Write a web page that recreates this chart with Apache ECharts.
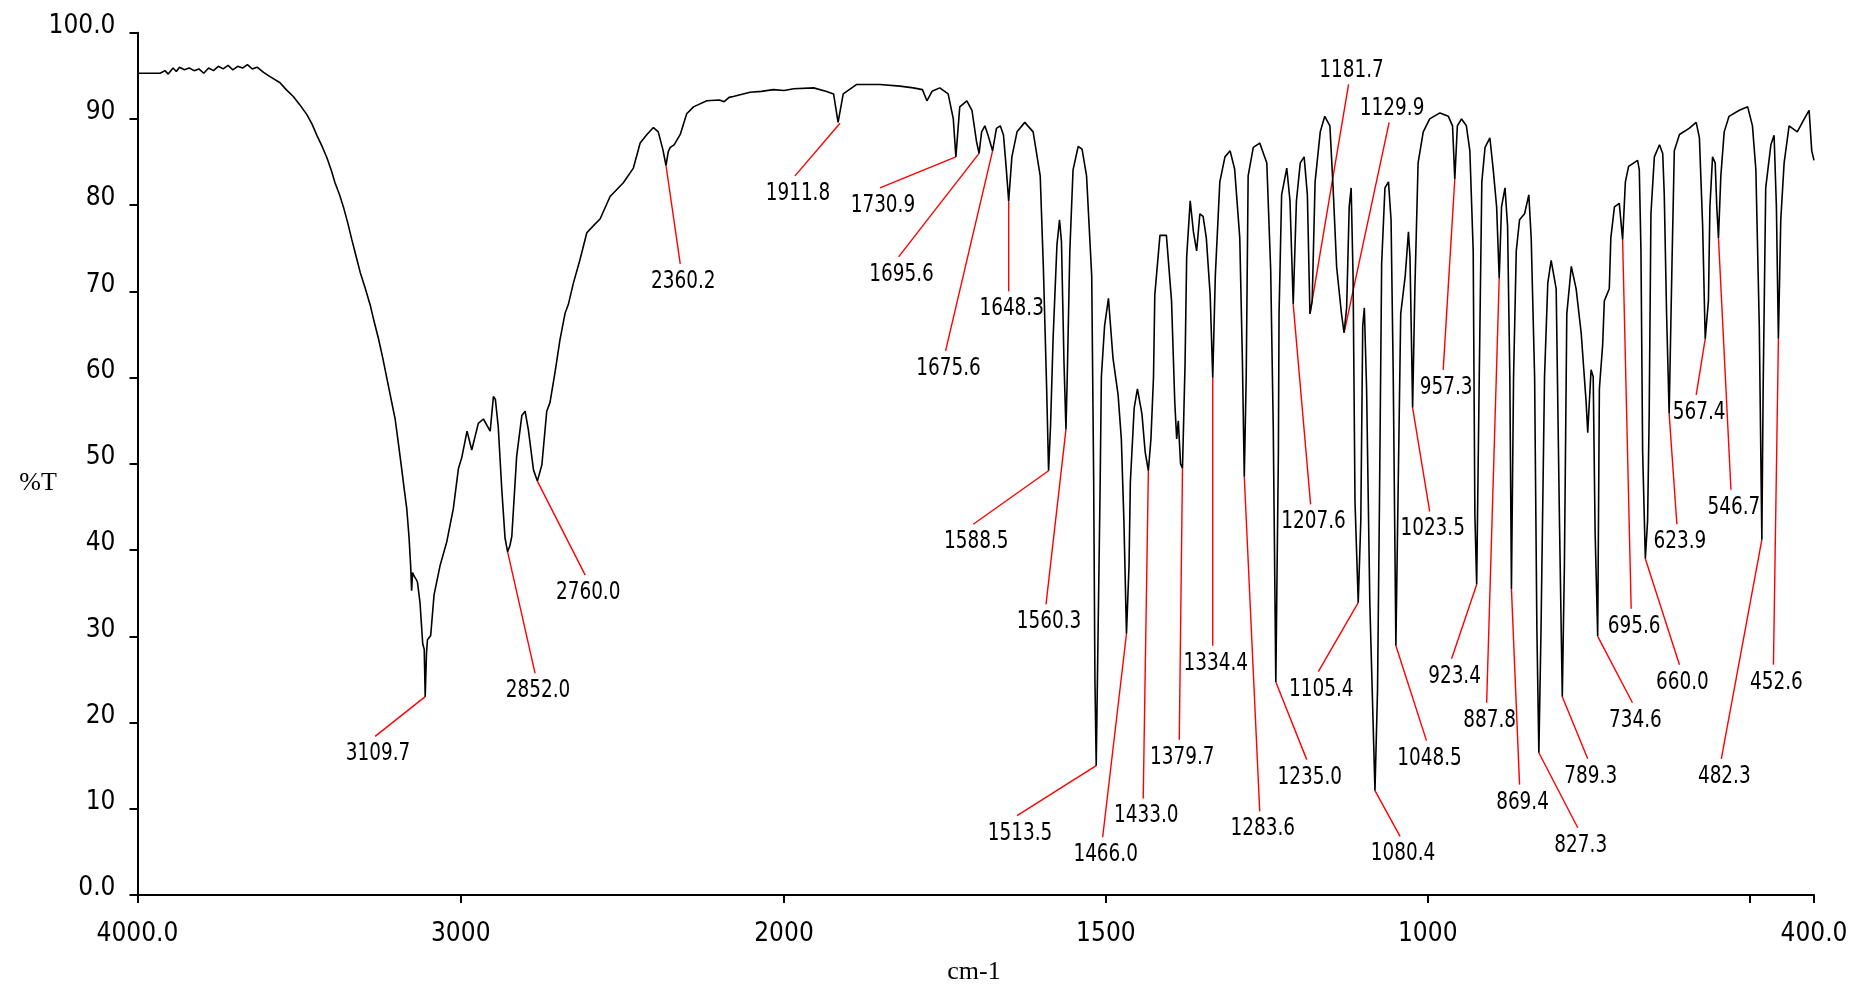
<!DOCTYPE html>
<html><head><meta charset="utf-8">
<script src="https://cdn.jsdelivr.net/npm/echarts@6/dist/echarts.min.js"></script>
<style>html,body{margin:0;padding:0;background:#fff}#c{width:1863px;height:985px}</style>
</head><body><div id="c"></div>
<script>
// ---- spectrum, 4000-2000 cm-1 (compressed scale) ----
const wnHigh = [4000,3930,3915,3905,3890,3880,3870,3855,3840,3825,
  3810,3795,3780,3765,3750,3735,3720,3705,3690,3675,
  3660,3645,3630,3610,3590,3559,3540,3518,3497,3476,
  3460,3445,3430,3414,3400,3389,3375,3363,3350,3337,
  3324,3311,3295,3280,3268,3255,3242,3229,3216,3203,
  3193,3183,3175,3167,3160,3155,3152,3149,3144.5,3138,
  3134,3126,3117.6,3113,3110,3106,3103,3093,3082.6,3064,
  3043,3023,3007,2997,2980.5,2966,2945.6,2930,2909,2899,
  2893,2884,2873,2863,2855,2848,2842,2827,2811,2801,
  2791,2775,2763,2749,2734,2724,2708,2693,2677,2667,
  2652,2631,2610,2590,2569,2538,2497,2466,2445,2424,
  2404,2389,2375,2365,2358,2352,2340,2321,2301,2280,
  2239,2200,2185,2170,2157,2105,2070,2033,2000];
const tHigh = [95.3,95.3,95.6,95.2,95.9,95.5,96.0,95.7,95.9,95.6,
  95.8,95.3,95.9,95.6,96.1,95.8,96.2,95.7,96.1,95.9,
  96.3,95.8,96.0,95.4,94.9,94.2,93.4,92.6,91.6,90.5,
  89.4,88.1,86.9,85.5,84.0,82.6,81.2,79.8,78.0,76.0,
  74.1,72.2,70.3,68.4,66.5,64.6,62.4,60.0,57.6,55.2,
  52.4,49.5,47.1,44.8,41.5,38.2,35.3,37.4,37.0,36.6,
  36.3,33.9,29.1,28.5,23.0,28.0,29.6,30.1,34.8,38.2,
  41.0,44.8,49.5,50.7,53.8,51.6,54.7,55.2,53.8,57.8,
  57.5,54.3,47.0,41.4,39.8,40.5,41.6,50.9,55.6,56.1,
  54.0,49.3,48.0,49.9,56.1,57.1,60.7,64.4,67.5,68.5,
  70.9,73.7,76.8,77.6,78.4,81.0,82.6,84.3,87.2,88.2,
  89.0,88.5,86.5,84.6,86.2,86.7,87.0,88.2,90.6,91.4,
  92.1,92.2,92.0,92.5,92.6,93.1,93.2,93.4,93.3];

// ---- spectrum, 2000-400 cm-1 (expanded scale) ----
const wnLow = [2000,1985,1954,1935,1923,1916,1913,1908,1887,1851,
  1820,1799,1785,1778,1770,1758,1745,1737,1733,1727,
  1716,1708,1701,1697,1693,1688,1683,1676,1670,1664,
  1659,1655,1651,1646,1638,1626,1613,1602,1597,1592,
  1589,1586,1582,1576,1572,1569,1565,1562,1560,1556,
  1551,1543,1537,1530,1522,1519,1517,1515,1512,1509,
  1507,1502,1496,1489,1481,1476,1472,1468,1464,1462,
  1456,1451,1444,1439,1434,1430,1426,1424,1416,1406,
  1398,1393,1390,1387.5,1384,1381,1377,1374.5,1369,1364,
  1359,1354,1349,1344,1338,1334,1330,1323,1315,1307,
  1300,1292,1288,1285,1282,1279,1271,1261,1250,1244,
  1240,1236,1232,1231,1227,1219,1214,1209,1204,1198,
  1192,1187,1183,1179.5,1175,1167,1160,1152,1147,1141.5,
  1134,1130,1126,1122,1119,1116,1113,1108,1104,1101,
  1098.5,1095,1090,1082,1078,1075,1071.6,1066.5,1061,1057,
  1053.6,1049.5,1046,1042,1035,1030,1027.6,1025,1023.5,1020,
  1015,1007,997,981,968,961.5,958,954,947.5,940,
  934.6,929.4,926.8,924,920,916,911,903.5,898.4,893,
  889,885.4,880,876,872.5,870,866.7,862.5,857.4,849.6,
  843,839.3,834,830.5,827.4,824,818.6,813.5,808.3,800.5,
  795.4,791,787.7,784,777,769.5,761.7,754,751.5,746.3,
  743,740,736,733.4,728.3,725.7,718,715.6,710,702.5,
  697.3,693,688,674,671.4,668.8,666.2,662,658.5,656,
  653.3,648,640,635,632.6,629,625,620.6,617,609,
  594,583,578,573,569,564,561.7,557.6,553.5,551,
  548.4,544.7,539.5,532,516,503,495.6,490.3,485,481,
  479,475,467,462,458.4,455.3,451.6,446.4,438.7,426,
  413,407.6,403.5,400];
const tLow = [93.3,93.5,93.6,93.2,92.9,89.6,89.5,92.9,94.0,94.0,
  93.8,93.6,93.4,92.1,93.2,93.6,92.9,90.0,85.6,91.4,
  92.1,91.0,87.4,86.0,88.5,89.2,88.1,86.3,88.9,89.2,
  88.1,84.5,80.5,85.6,88.5,89.6,88.5,83.4,72.5,58.7,
  49.2,54.3,64.5,75.4,78.3,75.8,61.6,54.0,60.1,74.7,
  84.1,86.8,86.5,83.4,71.8,48.5,25.0,15.0,31.0,47.0,
  60.1,66.0,69.2,62.3,58.0,52.9,43.4,30.3,38.3,47.8,
  56.5,58.7,55.8,51.4,49.2,52.9,60.1,69.6,76.5,76.5,
  68.9,57.2,52.9,55.0,50.0,49.5,61.6,74.0,80.5,76.9,
  74.7,79.0,78.7,76.2,69.6,60.0,71.8,82.7,85.6,86.3,
  84.2,76.2,62.3,48.5,60.1,83.4,86.7,87.2,84.9,72.5,
  54.3,24.7,51.4,67.4,81.2,84.3,80.5,68.5,80.5,84.9,
  85.6,81.2,67.4,68.9,82.7,88.5,90.3,89.2,82.0,72.8,
  67.4,65.2,68.1,79.8,82.0,71.8,45.6,33.9,43.4,66.0,
  68.1,58.7,33.9,12.1,23.8,45.6,73.2,82.0,82.7,78.3,
  60.1,28.9,47.0,67.4,71.8,76.9,74.0,63.0,56.5,70.3,
  84.9,88.5,90.0,90.7,90.3,89.2,83.0,89.2,90.0,89.2,
  86.3,74.7,44.1,36.0,60.1,82.7,86.7,87.8,84.2,79.8,
  71.5,79.8,82.0,77.6,60.1,35.5,60.1,74.7,78.3,79.0,
  81.2,76.2,60.1,31.0,16.5,31.0,60.1,71.0,73.6,70.3,
  43.4,23.0,38.3,67.4,72.9,70.3,65.2,57.2,53.6,60.9,
  60.1,42.0,30.0,58.7,63.8,68.9,70.3,76.2,79.8,80.2,
  76.0,82.7,84.5,85.2,84.1,74.7,51.4,39.0,43.4,55.8,
  79.0,85.6,87.0,86.0,81.2,67.4,55.8,73.2,86.3,88.2,
  88.9,89.6,87.8,77.6,64.5,68.9,79.8,85.6,84.9,79.8,
  76.2,83.4,88.5,90.3,91.0,91.4,89.2,84.1,66.0,41.2,
  58.7,82.0,87.0,88.1,79.8,64.5,78.3,84.9,89.2,88.5,
  90.3,91.0,86.3,85.2];

// ---- peak annotations ----
const peakLabels = ['3109.7','2852.0','2760.0','2360.2','1911.8','1730.9','1695.6','1675.6','1648.3','1588.5',
  '1560.3','1513.5','1466.0','1433.0','1379.7','1334.4','1283.6','1235.0','1207.6','1181.7',
  '1129.9','1105.4','1080.4','1048.5','1023.5','957.3','923.4','887.8','869.4','827.3',
  '789.3','734.6','695.6','660.0','623.9','567.4','546.7','482.3','452.6'];
const peakWn = [3110,2855,2763,2365,1913,1733,1697,1676,1651,1589,
  1562,1515,1468,1434,1381,1334,1285,1236,1209,1183,
  1130,1108,1082,1049.5,1023.5,958,924,889,870,827.4,
  791,736,697.3,662,625,569,548.4,481,455.3];
const peakT = [23.0,39.8,48.0,84.6,89.5,85.6,86.0,86.3,80.5,49.2,
  54.0,15.0,30.3,49.2,49.5,60.0,48.5,24.7,68.5,67.4,
  65.2,33.9,12.1,28.9,56.5,83.0,36.0,71.5,35.5,16.5,
  23.0,30.0,76.0,39.0,55.8,64.5,76.2,41.2,64.5];
const leaderWn = [3265,2770,2615,2321,1983,1851,1822,1749,1651,1706,
  1593,1638,1505,1442,1386,1334,1261,1188,1182,1123,
  1060,1170,1043,1002,997,976,963,908.5,857.4,767,
  751.5,682,684,609,613,583,529,544,463];
const leaderT = [18.4,25.7,37.1,73.2,83.4,82.0,74.0,63.1,70.0,43.0,
  33.7,9.2,6.7,11.2,18.0,28.9,9.7,15.7,45.3,94.0,
  89.6,25.9,6.8,17.9,44.5,60.9,27.4,22.3,12.8,7.8,
  15.8,22.3,33.2,26.7,43.0,58.0,47.0,15.8,26.7];

// ---- axes ----
const yTickLabels = {100:'100.0', 0:'0.0'};
const xTicksHigh = [4000, 3000];
const xTicksLow = [2000, 1500, 1000, 500, 400];
const xLabelValuesLow = [2000, 1500, 1000, 400];
const xLabelsHigh = {4000:'4000.0', 3000:'3000'};
const xLabelsLow = {2000:'2000', 1500:'1500', 1000:'1000', 400:'400.0'};

const SANS = '"DejaVu Sans Condensed","Liberation Sans",sans-serif';
const SERIF = '"Liberation Serif","Times New Roman",serif';

const hiData = wnHigh.map((w, i) => [w, tHigh[i]]);
const loData = wnLow.map((w, i) => [w, tLow[i]]);
const annData = peakLabels.map((s, i) => [peakWn[i], peakT[i], leaderWn[i], leaderT[i], i]);
const annHi = annData.filter(d => d[0] > 2000);
const annLo = annData.filter(d => d[0] <= 2000);

function renderAnn(params, api) {
  const p0 = api.coord([api.value(0), api.value(1)]);
  const p1 = api.coord([api.value(2), api.value(3)]);
  const idx = api.value(4);
  const below = api.value(3) < api.value(1);
  return {
    type: 'group',
    children: [
      {type: 'line', shape: {x1: p0[0], y1: p0[1], x2: p1[0], y2: p1[1]},
       style: {stroke: '#ff0000', lineWidth: 1.4}},
      {type: 'text', x: p1[0] + 3, y: below ? p1[1] + 5 : p1[1] - 1, scaleX: 0.82,
       style: {text: peakLabels[idx], fill: '#000', fontSize: 25, fontFamily: SANS,
               align: 'center', verticalAlign: below ? 'top' : 'bottom'}}
    ]
  };
}

const axisLineStyle = {show: true, lineStyle: {color: '#000', width: 2}};
const tickStyle = {lineStyle: {color: '#000', width: 2}, length: 8};

const chart = echarts.init(document.getElementById('c'));
chart.setOption({
  animation: false,
  backgroundColor: '#fff',
  grid: [
    {left: 137.5, top: 32.7, width: 646.5, height: 862.3},
    {left: 784, top: 32.7, width: 1030, height: 862.3}
  ],
  xAxis: [
    {type: 'value', gridIndex: 0, min: 2000, max: 4000, inverse: true,
     axisLine: axisLineStyle, splitLine: {show: false},
     axisTick: Object.assign({show: true, customValues: xTicksHigh}, tickStyle),
     axisLabel: {show: true, customValues: xTicksHigh, color: '#000', fontSize: 26, fontFamily: SANS,
                 margin: 25, lineHeight: 28, formatter: v => xLabelsHigh[v] || ''}},
    {type: 'value', gridIndex: 1, min: 400, max: 2000, inverse: true,
     axisLine: axisLineStyle, splitLine: {show: false},
     axisTick: Object.assign({show: true, customValues: xTicksLow}, tickStyle),
     axisLabel: {show: true, customValues: xLabelValuesLow, color: '#000', fontSize: 26, fontFamily: SANS,
                 margin: 25, lineHeight: 28, formatter: v => xLabelsLow[v] || ''}}
  ],
  yAxis: [
    {type: 'value', gridIndex: 0, min: 0, max: 100, interval: 10,
     axisLine: axisLineStyle, splitLine: {show: false},
     axisTick: Object.assign({show: true}, tickStyle),
     axisLabel: {color: '#000', fontSize: 26, fontFamily: SANS, margin: 22,
                 verticalAlign: 'bottom', lineHeight: 13,
                 formatter: v => (yTickLabels[v] !== undefined ? yTickLabels[v] : String(v))}},
    {type: 'value', gridIndex: 1, min: 0, max: 100, show: false}
  ],
  graphic: [
    {type: 'text', x: 38, y: 483, style: {text: '%T', fontSize: 26, fontFamily: SERIF, fill: '#000', align: 'center', verticalAlign: 'middle'}},
    {type: 'text', x: 974, y: 972, style: {text: 'cm-1', fontSize: 26, fontFamily: SERIF, fill: '#000', align: 'center', verticalAlign: 'middle'}}
  ],
  series: [
    {type: 'line', xAxisIndex: 0, yAxisIndex: 0, data: hiData, symbol: 'none',
     lineStyle: {color: '#000', width: 1.6}, z: 3},
    {type: 'line', xAxisIndex: 1, yAxisIndex: 1, data: loData, symbol: 'none',
     lineStyle: {color: '#000', width: 1.6}, z: 3},
    {type: 'custom', xAxisIndex: 0, yAxisIndex: 0, data: annHi, renderItem: renderAnn,
     encode: {x: [0, 2], y: [1, 3]}, z: 2, clip: false},
    {type: 'custom', xAxisIndex: 1, yAxisIndex: 1, data: annLo, renderItem: renderAnn,
     encode: {x: [0, 2], y: [1, 3]}, z: 2, clip: false}
  ]
});
</script>
</body></html>
